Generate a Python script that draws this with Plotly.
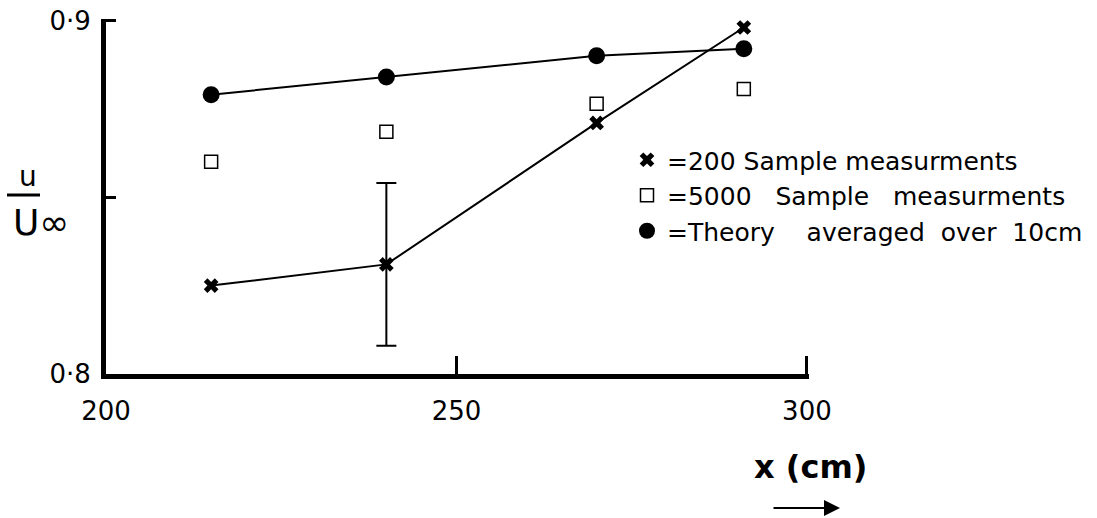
import plotly.graph_objects as go

# ---- data ----
x_pos = [215, 240, 270, 291]
theory = [0.879, 0.884, 0.890, 0.892]          # filled circles
sample_5000 = [0.860, 0.8685, 0.8764, 0.8806]  # open squares
sample_200 = [0.825, 0.831, 0.871, 0.898]      # crosses
err_x = [240]
err_y = [0.831]
err_val = [0.023]

NB = "\u00a0"
legend_names = ["=200 Sample measurments",
                "=5000" + NB * 2 + " Sample" + NB * 2 + " measurments",
                "=Theory" + NB * 3 + " averaged" + NB + " over" + NB + " 10cm"]
x_ticks = [200, 250, 300]
x_ticktext = ["200", "250", "300"]
y_ticks = [0.8, 0.85, 0.9]
y_ticktext = ["0\u00b78", "", "0\u00b79"]

FONT = "DejaVu Sans"
W, H = 1097, 518
L, R, T, B = 106, 288, 19, 144
PW, PH = W - L - R, H - T - B


def px(xp):
    return (xp - L) / PW


def py(yp):
    return (H - B - yp) / PH


fig = go.Figure()

# data traces
fig.add_trace(go.Scatter(x=x_pos, y=theory, mode="lines+markers",
                         line=dict(color="black", width=2),
                         marker=dict(symbol="circle", size=17, color="black"),
                         showlegend=False))
fig.add_trace(go.Scatter(x=x_pos, y=sample_200, mode="lines+markers",
                         line=dict(color="black", width=2),
                         marker=dict(symbol="x", size=13, color="black"),
                         showlegend=False))
fig.add_trace(go.Scatter(x=x_pos, y=sample_5000, mode="markers",
                         marker=dict(symbol="square-open", size=13, color="black",
                                     line=dict(width=1.5, color="black")),
                         showlegend=False))
fig.add_trace(go.Scatter(x=err_x, y=err_y, mode="markers",
                         marker=dict(size=1, color="rgba(0,0,0,0)"),
                         error_y=dict(type="data", array=err_val, visible=True,
                                      color="black", thickness=2, width=10),
                         showlegend=False))

# legend-only entries (markers only)
fig.add_trace(go.Scatter(x=[None], y=[None], mode="markers", name=legend_names[0],
                         marker=dict(symbol="x", size=13, color="black")))
fig.add_trace(go.Scatter(x=[None], y=[None], mode="markers", name=legend_names[1],
                         marker=dict(symbol="square-open", size=13, color="black",
                                     line=dict(width=1.5, color="black"))))
fig.add_trace(go.Scatter(x=[None], y=[None], mode="markers", name=legend_names[2],
                         marker=dict(symbol="circle", size=17, color="black")))

axis_font = dict(family=FONT, size=26, color="black")

fig.update_layout(
    width=W, height=H,
    margin=dict(l=L, r=R, t=T, b=B, autoexpand=False),
    paper_bgcolor="white", plot_bgcolor="white",
    font=dict(family=FONT, color="black"),
    xaxis=dict(range=[200, 300.3], showgrid=False, zeroline=False,
               showline=True, linewidth=5, linecolor="black",
               tickvals=x_ticks, ticktext=x_ticktext, ticks="inside",
               ticklen=18, tickwidth=3, tickcolor="black",
               tickfont=axis_font, ticklabelstandoff=10),
    yaxis=dict(range=[0.8, 0.9004], showgrid=False, zeroline=False,
               showline=True, linewidth=5, linecolor="black",
               tickvals=y_ticks, ticktext=y_ticktext, ticks="inside",
               ticklen=10, tickwidth=2.5, tickcolor="black",
               tickfont=axis_font, ticklabelstandoff=5),
    legend=dict(x=px(627), y=py(137), xanchor="left", yanchor="top",
                bgcolor="rgba(0,0,0,0)", borderwidth=0,
                font=dict(family=FONT, size=25, color="black"),
                itemsizing="trace", tracegroupgap=0),
    showlegend=True,
)

# y-axis label: u / U-infinity
fig.add_annotation(x=px(28), y=py(176), xref="paper", yref="paper",
                   xanchor="center", yanchor="middle",
                   text="u", showarrow=False,
                   font=dict(family=FONT, size=28, color="black"))
fig.add_shape(type="line", xref="paper", yref="paper",
              x0=px(7), x1=px(40), y0=py(195), y1=py(195),
              line=dict(color="black", width=3))
fig.add_annotation(x=px(41), y=py(222), xref="paper", yref="paper",
                   xanchor="center", yanchor="middle",
                   text="U\u221e", showarrow=False,
                   font=dict(family=FONT, size=36, color="black"))

# x-axis label and arrow
fig.add_annotation(x=px(811), y=py(467), xref="paper", yref="paper",
                   xanchor="center", yanchor="middle",
                   text="<b>x (cm)</b>", showarrow=False,
                   font=dict(family=FONT, size=32, color="black"))
fig.add_annotation(x=px(840), y=py(508), xref="paper", yref="paper",
                   text="", showarrow=True, ax=-68, ay=0,
                   arrowhead=2, arrowsize=1.6, arrowwidth=2, arrowcolor="black")

fig.write_html("out.html")
